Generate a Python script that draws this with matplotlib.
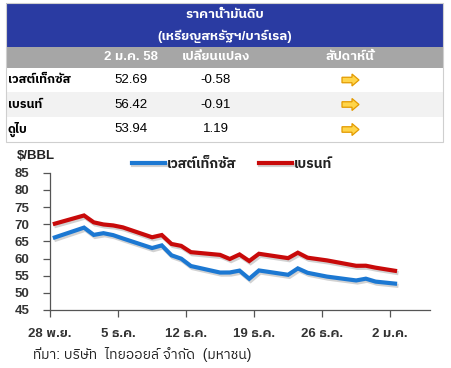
import matplotlib
matplotlib.use("Agg")
import matplotlib.pyplot as plt
import matplotlib.patheffects as pe
from matplotlib import font_manager as fm
from matplotlib.ft2font import FT2Font
from matplotlib.patches import Rectangle, FancyArrow
import numpy as np
import pandas as pd

# find an installed font that has Thai glyphs
thai_fonts = []
for f in fm.fontManager.ttflist:
    try:
        if 0x0E01 in FT2Font(f.fname).get_charmap():
            thai_fonts.append(f.name)
    except Exception:
        pass
thai_fonts = sorted(set(thai_fonts), key=lambda n: (0 if "Sans" in n else 1, n))
plt.rcParams["font.family"] = ["Liberation Sans"] + thai_fonts[:1] + ["DejaVu Sans"]

# ---- data ----
table_title = ["ราคาน้ำมันดิบ", "(เหรียญสหรัฐฯ/บาร์เรล)"]
table_cols = ["2 ม.ค. 58", "เปลี่ยนแปลง", "สัปดาห์นี้"]
table_rows = ["เวสต์เท็กซัส", "เบรนท์", "ดูไบ"]
price = ["52.69", "56.42", "53.94"]
change = ["-0.58", "-0.91", "1.19"]

dates = pd.to_datetime([
    "2014-11-28", "2014-12-01", "2014-12-02", "2014-12-03", "2014-12-04",
    "2014-12-05", "2014-12-08", "2014-12-09", "2014-12-10", "2014-12-11",
    "2014-12-12", "2014-12-15", "2014-12-16", "2014-12-17", "2014-12-18",
    "2014-12-19", "2014-12-22", "2014-12-23", "2014-12-24", "2014-12-26",
    "2014-12-29", "2014-12-30", "2014-12-31", "2015-01-02"])
wti = [66.15, 69.00, 66.88, 67.38, 66.81, 65.84, 63.05, 63.82, 60.94, 59.95,
       57.81, 55.91, 55.93, 56.47, 54.11, 56.52, 55.26, 57.12, 55.84, 54.73,
       53.61, 54.12, 53.27, 52.69]
brent = [70.15, 72.54, 70.54, 69.92, 69.64, 69.07, 66.19, 66.84, 64.24, 63.68,
         61.85, 61.06, 59.86, 61.18, 59.27, 61.38, 60.11, 61.69, 60.24, 59.45,
         57.88, 57.90, 57.33, 56.42]
tick_dates = pd.to_datetime(["2014-11-28", "2014-12-05", "2014-12-12",
                             "2014-12-19", "2014-12-26", "2015-01-02"])
tick_labels = ["28 พ.ย.", "5 ธ.ค.", "12 ธ.ค.", "19 ธ.ค.", "26 ธ.ค.", "2 ม.ค."]
source = "ที่มา: บริษัท  ไทยออยล์ จำกัด  (มหาชน)"

W, H = 452, 368
fig = plt.figure(figsize=(W / 100, H / 100), dpi=100)

# ---- table (pixel coords) ----
tb = fig.add_axes([0, 0, 1, 1])
tb.set_xlim(0, W)
tb.set_ylim(H, 0)
tb.axis("off")

left, right = 6, 443
tb.add_patch(Rectangle((left, 3), right - left, 44, color="#2A3BA2", lw=0))
tb.add_patch(Rectangle((left, 47), right - left, 21, color="#A6A6A6", lw=0))
row_y = [68, 92, 117]
row_h = [24, 25, 25]
row_c = ["white", "#F2F2F2", "white"]
for y, h, c in zip(row_y, row_h, row_c):
    tb.add_patch(Rectangle((left, y), right - left, h, color=c, lw=0))
tb.add_patch(Rectangle((left, 3), right - left, 139, fill=False,
                       ec="#CFCFCF", lw=0.8))

tb.text(225, 15, table_title[0], color="white", fontsize=9.5, weight="bold",
        ha="center", va="center")
tb.text(225, 36, table_title[1], color="white", fontsize=9.5, weight="bold",
        ha="center", va="center")
col_x = [131, 216, 350]
for x, t in zip(col_x, table_cols):
    tb.text(x, 57, t, color="white", fontsize=9.5, weight="bold",
            ha="center", va="center")
for i, y in enumerate(row_y):
    yc = y + row_h[i] / 2
    tb.text(8, yc, table_rows[i], color="black", fontsize=9, weight="bold",
            ha="left", va="center")
    tb.text(col_x[0], yc, price[i], color="black", fontsize=9.5,
            ha="center", va="center")
    tb.text(col_x[1], yc, change[i], color="black", fontsize=9.5,
            ha="center", va="center")
    tb.add_patch(FancyArrow(col_x[2] - 8, yc, 17, 0, width=5.5, head_width=12,
                            head_length=7, length_includes_head=True,
                            fc="#FFD54A", ec="#E39A00", lw=0.9))

tb.text(17, 156, "$/BBL", color="#222222", fontsize=9.5, weight="bold",
        ha="left", va="center")
tb.text(33, 355, source, color="#222222", fontsize=10, ha="left", va="center")

# ---- line chart ----
ax = fig.add_axes([50 / W, (H - 310) / H, 380 / W, 137.3 / H])
half = pd.Timedelta(hours=12)
shadow = [pe.SimpleLineShadow(offset=(1, -1.5), shadow_color="gray", alpha=0.35),
          pe.Normal()]
ax.plot(dates + half, wti, color="#1C78D2", lw=3, label="เวสต์เท็กซัส",
        solid_joinstyle="miter", path_effects=shadow)
ax.plot(dates + half, brent, color="#C80A0A", lw=3, label="เบรนท์",
        solid_joinstyle="miter", path_effects=shadow)

ax.set_ylim(45, 85)
ax.set_yticks(np.arange(45, 86, 5))
ax.set_xlim(tick_dates[0], tick_dates[0] + pd.Timedelta(days=39.1))
ax.set_xticks(tick_dates)
ax.set_xticklabels(tick_labels)
for s in ["top", "right"]:
    ax.spines[s].set_visible(False)
for s in ["left", "bottom"]:
    ax.spines[s].set_color("#555555")
    ax.spines[s].set_linewidth(0.9)
ax.tick_params(axis="y", direction="out", length=5, width=0.9, color="#555555",
               pad=10, labelsize=9.5, labelcolor="#333333")
ax.tick_params(axis="x", direction="out", length=5, width=0.9, color="#555555",
               pad=8, labelsize=9.5, labelcolor="#333333")
for lab in ax.get_yticklabels() + ax.get_xticklabels():
    lab.set_fontweight("bold")

leg = ax.legend(loc="center", bbox_to_anchor=(232 / W, 1 - 164 / H),
                bbox_transform=fig.transFigure, ncol=2, frameon=False,
                handlelength=2.4, handletextpad=0.15, columnspacing=1.6,
                prop={"weight": "bold", "size": 10})
for t in leg.get_texts():
    t.set_color("#222222")

fig.savefig("out.png", dpi=100)
